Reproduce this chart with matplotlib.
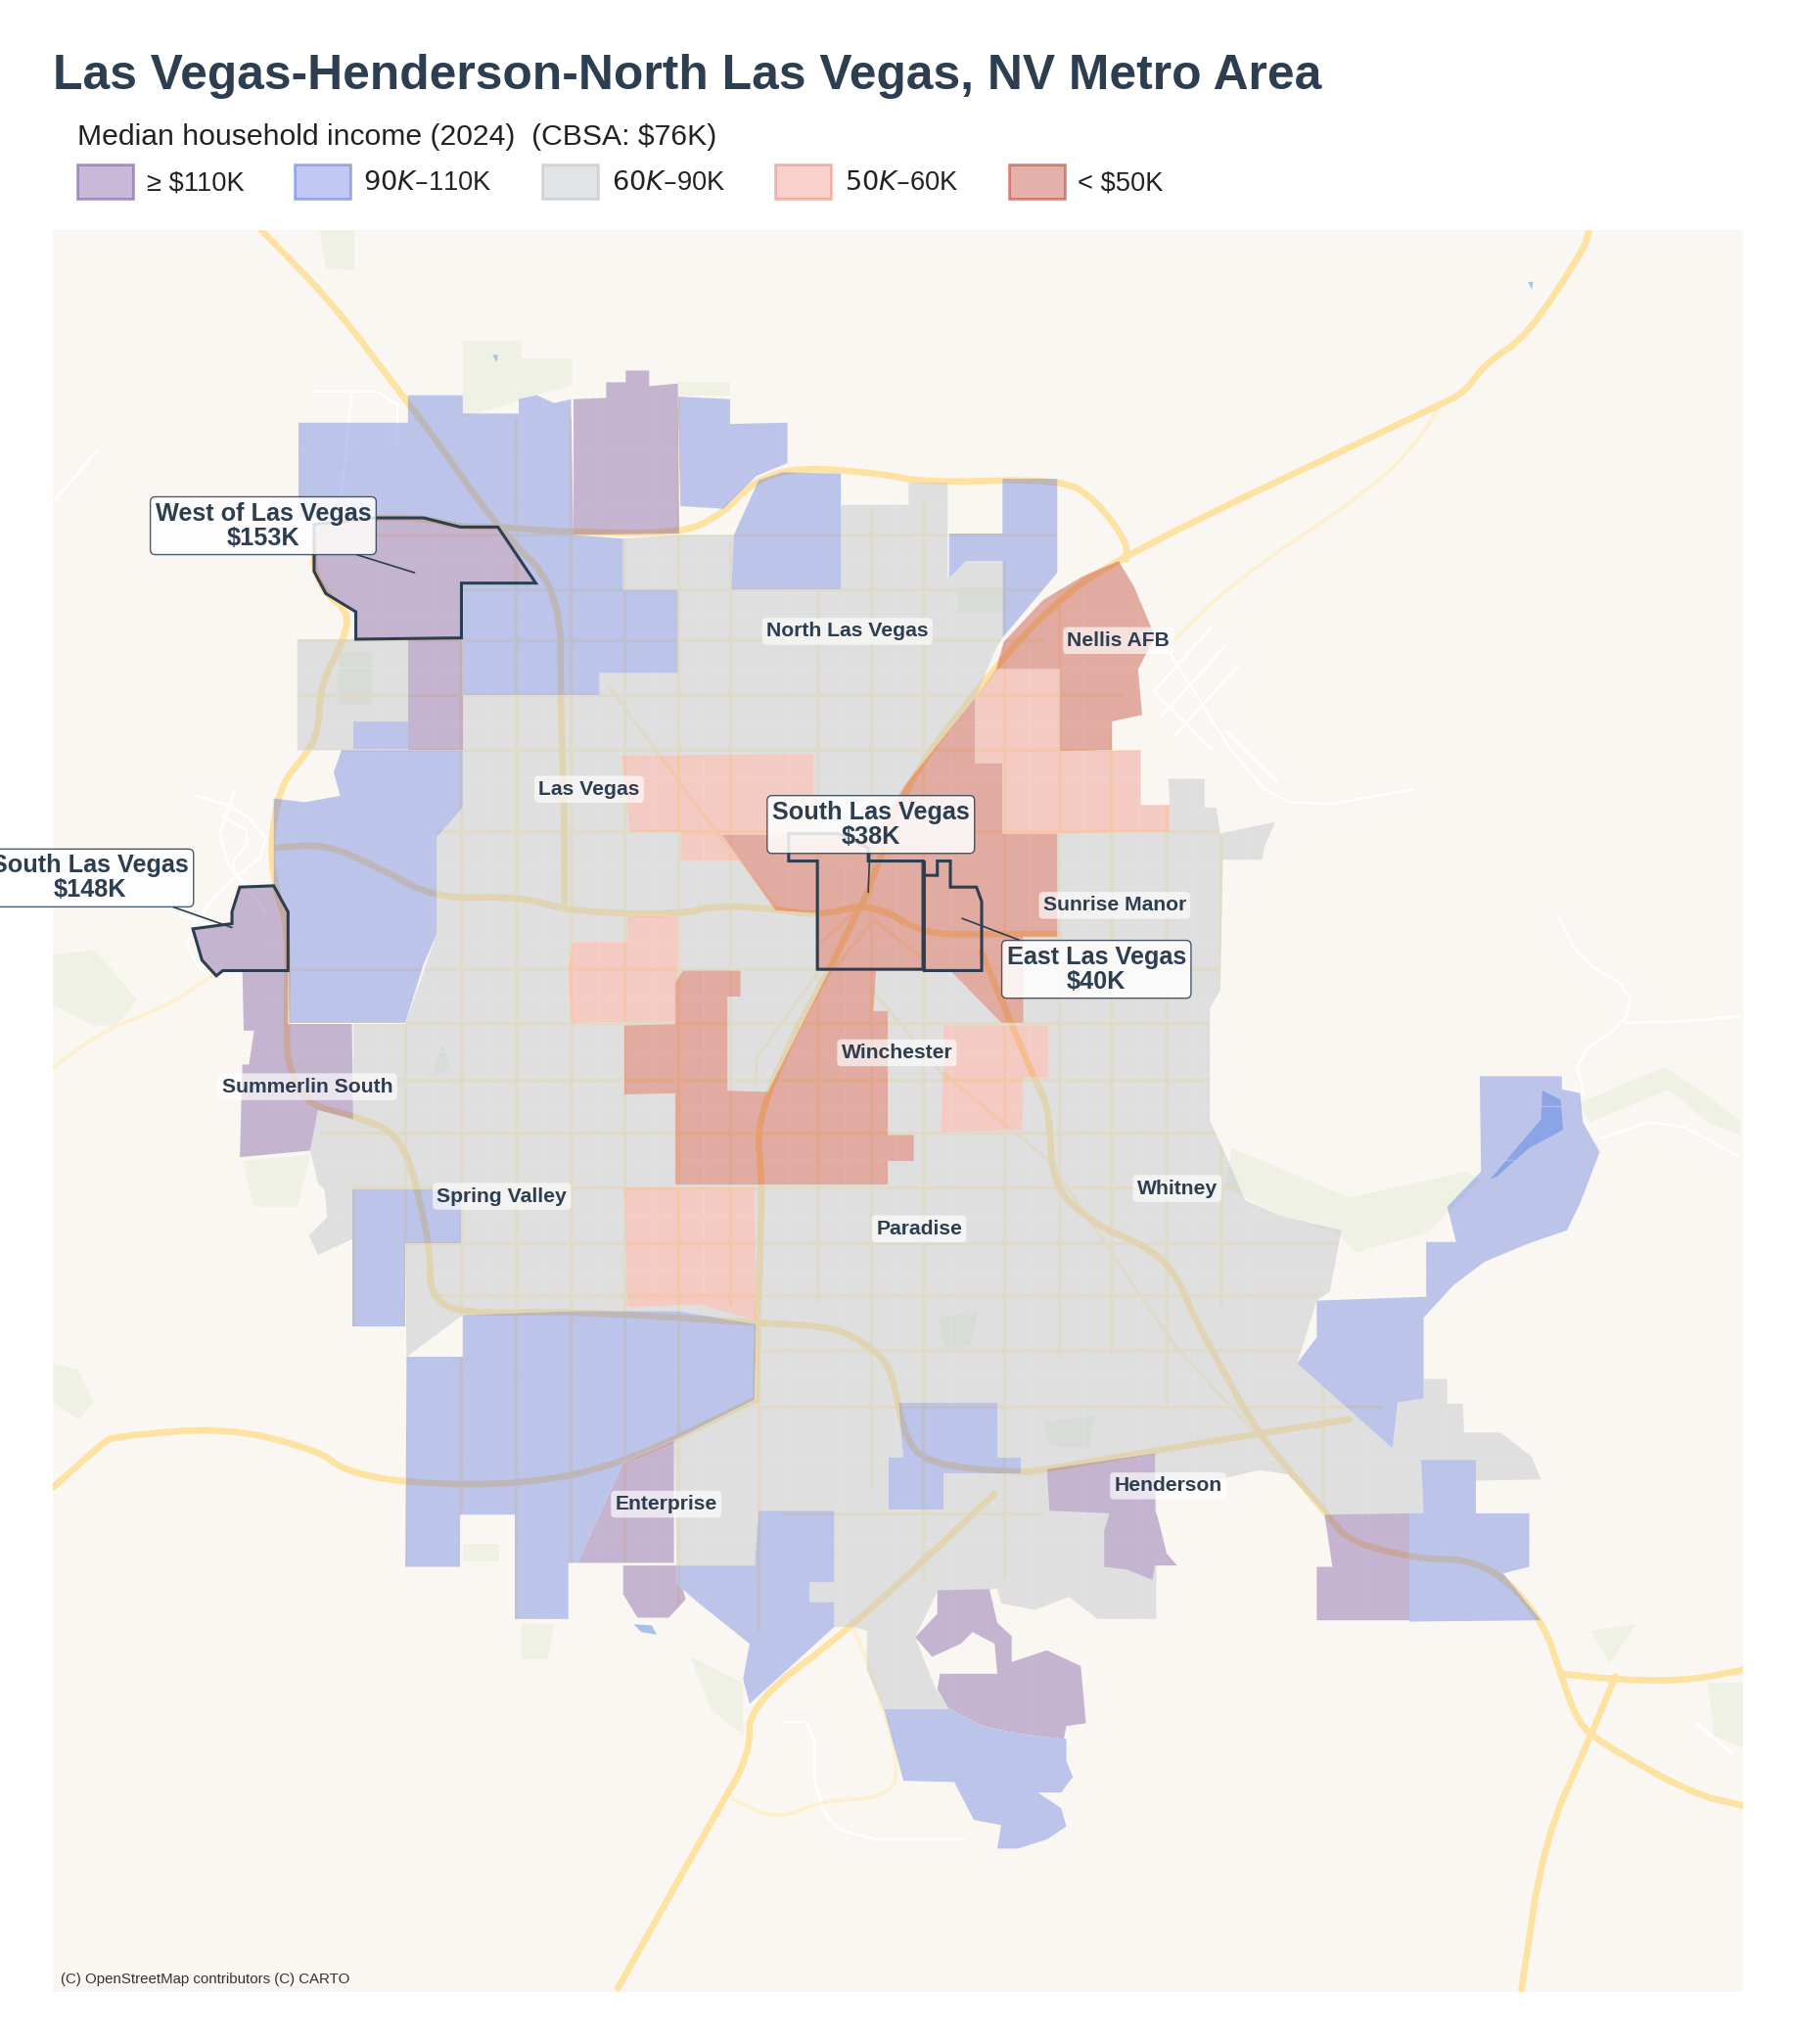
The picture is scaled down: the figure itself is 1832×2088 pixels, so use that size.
import matplotlib
matplotlib.use("Agg")
import matplotlib.pyplot as plt
from matplotlib.colors import to_rgba
from matplotlib.patches import Polygon, Patch
from matplotlib.collections import LineCollection

plt.rcParams['font.family'] = ['Liberation Sans', 'DejaVu Sans']

DARK = '#2c3e50'
LAND = '#faf7f2'

# map extent (projected map units, y grows downwards)
MAP_X = (41, 1337)
MAP_Y = (1527, 176)

# income classes
CLASS_LABELS = ['≥ $110K', '$90K–$110K', '$60K–$90K', '$50K–$60K', '< $50K']
CLASS_COLORS = ['#76509e', '#6178de', '#bdc3c7', '#ec7f72', '#c0392b']
CLASS_ALPHA = [0.40, 0.40, 0.45, 0.36, 0.40]

# tract outlines by income class
west_of_lv = [(241, 402), (288, 397), (325, 397), (353, 404), (382, 404), (411, 447), (354, 447), (354, 489), (273, 490), (273, 469), (250, 455), (241, 438)]
south_lv_west = [(184, 680), (210, 679), (221, 699), (221, 744), (171, 744), (166, 748), (155, 736), (148, 712), (178, 708), (178, 699)]
south_lv = [(605, 639), (643, 639), (666, 650), (666, 660), (708, 660), (708, 743), (627, 743), (627, 660), (605, 660)]
east_lv = [(709, 660), (709, 671), (719, 671), (719, 660), (729, 660), (729, 680), (749, 680), (753, 691), (753, 744), (709, 744)]

purple_tracts = [
    [(440, 306), (465, 305), (465, 293), (480, 293), (480, 284), (498, 284), (498, 296), (520, 294), (521, 409), (440, 410)],
    west_of_lv,
    [(313, 490), (355, 490), (355, 575), (313, 575)],
    south_lv_west,
    [(186, 744), (221, 744), (221, 785), (270, 785), (271, 858), (244, 851), (238, 882), (184, 887), (186, 816), (191, 816), (195, 790), (187, 790)],
    [(517, 1104), (517, 1198), (443, 1198), (478, 1121)],
    [(478, 1200), (519, 1200), (526, 1226), (513, 1240), (489, 1240), (478, 1222)],
    [(803, 1126), (886, 1114), (886, 1158), (888, 1163), (895, 1191), (903, 1200), (886, 1200), (884, 1211), (864, 1203), (847, 1201), (847, 1173), (851, 1160), (805, 1158)],
    [(719, 1219), (759, 1218), (765, 1244), (776, 1254), (776, 1274), (803, 1265), (829, 1277), (833, 1321), (818, 1323), (816, 1333), (781, 1329), (754, 1323), (728, 1310), (719, 1295), (721, 1283), (765, 1283), (763, 1260), (746, 1251), (737, 1260), (715, 1270), (702, 1255), (719, 1237)],
    [(1016, 1161), (1081, 1160), (1081, 1242), (1010, 1242), (1010, 1201), (1022, 1201)],
]
blue_tracts = [
    [(229, 324), (313, 324), (313, 303), (355, 303), (355, 317), (398, 317), (398, 306), (412, 303), (425, 309), (438, 306), (440, 410), (478, 413), (478, 452), (520, 452), (520, 516), (460, 516), (460, 533), (355, 533), (355, 447), (411, 447), (382, 404), (353, 404), (325, 397), (229, 397)],
    [(520, 304), (560, 306), (560, 325), (604, 324), (604, 355), (580, 365), (555, 390), (522, 388)],
    [(561, 452), (563, 410), (582, 368), (600, 362), (645, 363), (645, 452)],
    [(769, 367), (811, 367), (811, 439), (769, 489), (769, 430), (741, 430), (728, 443), (728, 409), (769, 409)],
    [(271, 574), (271, 553), (313, 553), (313, 574)],
    [(262, 575), (355, 575), (355, 619), (335, 642), (335, 716), (325, 739), (311, 784), (222, 784), (221, 744), (221, 699), (210, 679), (210, 612), (234, 615), (261, 610), (256, 592)],
    [(270, 912), (354, 912), (354, 953), (311, 953), (311, 1017), (270, 1017)],
    [(355, 1008), (440, 1005), (520, 1005), (580, 1015), (579, 1073), (517, 1104), (478, 1121), (443, 1198), (436, 1198), (436, 1241), (395, 1241), (395, 1161), (353, 1161), (353, 1201), (311, 1201), (312, 1040), (355, 1040)],
    [(519, 1200), (579, 1200), (582, 1158), (640, 1158), (640, 1213), (621, 1213), (621, 1228), (640, 1228), (640, 1247), (575, 1306), (570, 1287), (575, 1260), (535, 1228), (519, 1214)],
    [(689, 1075), (765, 1075), (765, 1117), (783, 1117), (783, 1129), (724, 1129), (724, 1157), (682, 1157), (682, 1117), (693, 1117)],
    [(1090, 1119), (1132, 1119), (1132, 1160), (1173, 1160), (1173, 1201), (1153, 1206), (1182, 1242), (1081, 1243), (1081, 1160), (1092, 1160)],
    [(678, 1310), (728, 1310), (754, 1323), (781, 1329), (818, 1333), (818, 1350), (823, 1362), (814, 1374), (796, 1374), (814, 1386), (818, 1400), (803, 1410), (781, 1417), (765, 1417), (768, 1399), (747, 1395), (732, 1366), (693, 1365)],
    [(1135, 825), (1198, 825), (1198, 835), (1212, 838), (1214, 860), (1227, 883), (1213, 920), (1202, 943), (1173, 953), (1139, 967), (1115, 985), (1092, 1010), (1092, 1072), (1072, 1075), (1068, 1110), (995, 1045), (1010, 1025), (1010, 997), (1094, 994), (1094, 952), (1117, 952), (1110, 925), (1136, 898)],
]
gray_tracts = [
    [(228, 490), (272, 490), (354, 490), (355, 533), (460, 533), (460, 516), (520, 516), (520, 452), (478, 452), (478, 413), (520, 410), (563, 410), (563, 452), (645, 452), (645, 387), (697, 387), (697, 370), (727, 370), (727, 443), (741, 430), (769, 430), (769, 489), (764, 497), (748, 535), (769, 585), (769, 639), (897, 638), (897, 607), (896, 597), (924, 597), (924, 619), (933, 619), (936, 639), (978, 630), (970, 649), (968, 659), (938, 659), (936, 759), (928, 773), (928, 859), (941, 887), (955, 920), (985, 933), (1029, 943), (1020, 990), (1010, 997), (995, 1045), (1060, 1100), (1072, 1075), (1092, 1072), (1092, 1057), (1110, 1057), (1110, 1076), (1122, 1076), (1123, 1098), (1151, 1098), (1175, 1117), (1182, 1134), (1132, 1135), (1132, 1160), (1017, 1161), (988, 1130), (965, 1127), (940, 1133), (887, 1142), (887, 1241), (842, 1241), (820, 1224), (794, 1234), (768, 1229), (765, 1218), (719, 1220), (702, 1255), (718, 1295), (728, 1310), (678, 1310), (665, 1280), (665, 1250), (654, 1247), (640, 1247), (640, 1228), (621, 1228), (621, 1213), (640, 1213), (640, 1200), (519, 1200), (517, 1104), (580, 1073), (580, 1015), (520, 1005), (355, 1008), (312, 1040), (311, 953), (270, 950), (244, 962), (237, 947), (251, 933), (249, 912), (244, 907), (238, 882), (244, 851), (271, 858), (271, 785), (311, 785), (335, 716), (335, 642), (355, 619), (355, 575), (228, 575)],
]
pink_tracts = [
    [(477, 579), (624, 578), (624, 640), (554, 640), (569, 660), (522, 660), (522, 638), (483, 638)],
    [(481, 702), (520, 702), (520, 783), (438, 784), (436, 744), (439, 722), (481, 722)],
    [(479, 910), (579, 910), (580, 1012), (536, 1000), (481, 1002)],
    [(764, 513), (813, 513), (813, 576), (875, 575), (875, 617), (897, 617), (897, 638), (769, 639), (769, 585), (748, 585), (748, 535)],
    [(724, 786), (804, 786), (804, 826), (785, 826), (784, 866), (722, 868), (723, 826)],
]
red_tracts = [
    [(858, 430), (870, 450), (886, 488), (873, 513), (876, 548), (853, 553), (853, 575), (813, 576), (813, 513), (764, 513), (770, 492), (800, 460), (830, 442)],
    [(748, 535), (748, 585), (769, 585), (769, 639), (811, 639), (811, 718), (785, 718), (785, 784), (768, 784), (729, 744), (627, 744), (627, 700), (595, 698), (554, 640), (672, 640), (694, 602)],
    [(636, 744), (672, 744), (670, 775), (681, 775), (681, 870), (701, 870), (701, 890), (681, 890), (681, 908), (518, 908), (518, 838), (479, 839), (479, 786), (518, 785), (518, 753), (524, 744), (568, 744), (568, 764), (558, 764), (558, 836), (589, 837)],
]
class_tracts = [purple_tracts, blue_tracts, gray_tracts, pink_tracts, red_tracts]

# motorways
highways = [
    [(1219, 176), (1215, 191), (1171, 258), (1140, 278), (1123, 301), (1105, 310), (855, 428), (800, 470), (748, 530), (694, 602), (667, 682), (657, 700), (636, 744), (610, 790), (580, 860), (585, 905), (581, 1015), (580, 1073)],
    [(200, 176), (254, 231), (307, 301), (333, 335), (382, 405), (430, 452), (430, 545), (433, 619), (433, 692)],
    [(382, 404), (439, 408), (522, 409), (553, 395), (579, 368), (614, 358), (675, 363), (711, 370), (816, 367), (842, 385), (864, 415), (864, 429)],
    [(382, 404), (353, 404), (325, 397), (288, 397), (250, 400), (241, 420), (241, 438), (250, 455), (268, 470), (263, 492), (246, 525), (244, 562), (234, 579), (215, 602), (207, 649), (212, 684), (221, 712), (220, 786), (220, 813), (234, 846), (273, 856), (299, 866), (311, 883), (318, 903), (330, 957), (330, 994), (354, 1007), (440, 1005), (581, 1014), (641, 1017), (670, 1034), (684, 1050), (693, 1099), (710, 1122), (781, 1129), (798, 1127), (886, 1112), (965, 1099), (1035, 1088)],
    [(210, 650), (250, 647), (290, 665), (335, 689), (397, 687), (440, 699), (521, 701), (550, 694), (598, 697), (627, 702), (670, 692), (708, 716), (753, 716), (811, 716)],
    [(753, 730), (793, 826), (805, 850), (807, 910), (842, 940), (877, 954), (901, 974), (916, 1010), (938, 1050), (965, 1099), (1017, 1160), (1035, 1182), (1088, 1195), (1123, 1195), (1153, 1208), (1184, 1244), (1197, 1283), (1210, 1320), (1228, 1336), (1298, 1375), (1337, 1384)],
    [(1197, 1283), (1246, 1288), (1296, 1288), (1337, 1280)],
    [(1239, 1285), (1219, 1333), (1184, 1412), (1167, 1525)],
    [(41, 1140), (79, 1106), (88, 1101), (175, 1094), (245, 1112), (263, 1127), (311, 1137), (403, 1138), (478, 1122), (579, 1073)],
    [(763, 1145), (654, 1247), (575, 1306), (575, 1346), (548, 1392), (474, 1524)],
]
# secondary roads reaching outside the urban area
rural_roads = [
    [(41, 818), (81, 789), (129, 771), (165, 746)],
    [(1105, 310), (1088, 338), (1052, 375), (947, 445), (895, 496)],
    [(561, 1379), (596, 1395), (632, 1380), (675, 1379), (693, 1359), (662, 1264), (654, 1247)],
]
# arterial grid, only drawn inside tracts
arterials = [
    [(466, 525), (540, 625), (598, 699)],
    [(627, 746), (581, 810), (579, 833)],
    [(670, 760), (720, 820), (805, 890), (900, 1030), (1001, 1140), (1017, 1160)],
    [(627, 725), (660, 695), (690, 705)], [(640, 743), (670, 705), (708, 735)],
    [(271, 912), (271, 1017)], [(311, 785), (311, 1200)], [(354, 490), (354, 1200)], [(396, 320), (396, 1240)],
    [(438, 320), (438, 1200)], [(479, 410), (479, 1200)], [(520, 305), (520, 1240)], [(560, 415), (560, 1000)],
    [(582, 910), (582, 1250)], [(627, 452), (627, 1000)], [(668, 390), (668, 1140)], [(708, 385), (708, 1210)],
    [(770, 430), (770, 1210)], [(812, 370), (812, 1040)], [(852, 560), (852, 1040)], [(895, 560), (895, 1080)],
    [(936, 640), (936, 1000)], [(1015, 1060), (1015, 1160)],
    [(229, 410), (813, 410)], [(355, 452), (813, 452)], [(229, 491), (800, 491)], [(229, 533), (860, 533)],
    [(228, 575), (900, 575)], [(335, 637), (940, 637)], [(221, 743), (935, 743)], [(222, 784), (930, 784)],
    [(270, 828), (928, 828)], [(245, 868), (945, 868)], [(270, 910), (1000, 910)], [(311, 953), (1030, 953)],
    [(330, 993), (1010, 993)], [(580, 1035), (1000, 1035)], [(580, 1078), (1060, 1078)], [(600, 1160), (800, 1160)],
]
# local streets inside tracts
local_roads = [
    [(291, 300), (291, 1250)], [(332, 300), (332, 1250)], [(375, 300), (375, 1250)], [(417, 300), (417, 1250)],
    [(459, 300), (459, 1250)], [(500, 300), (500, 1250)], [(540, 300), (540, 1250)], [(605, 300), (605, 1250)],
    [(648, 300), (648, 1350)], [(688, 300), (688, 1350)], [(729, 300), (729, 1350)], [(790, 300), (790, 1350)],
    [(832, 300), (832, 1350)], [(873, 400), (873, 1350)], [(915, 560), (915, 1350)], [(957, 600), (957, 1250)],
    [(1050, 900), (1050, 1250)], [(1110, 800), (1110, 1250)],
    [(200, 345), (1200, 345)], [(200, 388), (1200, 388)], [(200, 431), (1200, 431)], [(200, 472), (1200, 472)],
    [(200, 512), (1200, 512)], [(200, 554), (1200, 554)], [(200, 596), (1200, 596)], [(200, 660), (1200, 660)],
    [(200, 722), (1200, 722)], [(200, 764), (1200, 764)], [(200, 806), (1200, 806)], [(200, 848), (1200, 848)],
    [(200, 889), (1200, 889)], [(200, 931), (1200, 931)], [(200, 973), (1200, 973)], [(200, 1056), (1200, 1056)],
    [(200, 1118), (1200, 1118)], [(200, 1180), (1200, 1180)],
]
# streets outside the urban area
pale_roads = [
    [(1195, 702), (1212, 736), (1252, 759), (1247, 784), (1208, 810), (1215, 840)],
    [(1247, 784), (1292, 783), (1335, 779)],
    [(1227, 873), (1277, 856), (1335, 887)],
    [(150, 610), (185, 620), (210, 650), (170, 680), (140, 720), (155, 745)],
    [(180, 605), (165, 650), (205, 700)], [(170, 625), (195, 640), (175, 665), (190, 680)], [(135, 700), (165, 710)],
    [(240, 300), (305, 300), (305, 340)], [(270, 300), (262, 380)],
    [(897, 500), (960, 600), (1000, 620), (1085, 605)],
    [(930, 480), (885, 530)], [(940, 495), (890, 550)], [(950, 510), (900, 565)], [(885, 530), (930, 575)],
    [(940, 560), (980, 600)], [(600, 1320), (625, 1320), (625, 1380), (650, 1410), (740, 1410)],
    [(1300, 1320), (1330, 1345)], [(41, 385), (75, 345)],
]
# parks and desert washes
parks = [
    [(355, 261), (400, 261), (400, 275), (439, 275), (439, 295), (355, 320)],
    [(245, 176), (272, 176), (272, 208), (250, 205)],
    [(520, 293), (560, 293), (560, 303), (520, 303)],
    [(41, 732), (72, 728), (105, 766), (90, 786), (72, 786), (41, 770)],
    [(945, 880), (1035, 918), (1125, 898), (1135, 905), (1095, 945), (1040, 960), (1025, 945), (985, 933), (940, 910)],
    [(1210, 846), (1277, 818), (1310, 840), (1335, 860), (1335, 870), (1310, 860), (1280, 835), (1220, 860)],
    [(186, 890), (238, 885), (228, 925), (195, 925)],
    [(355, 1183), (383, 1183), (383, 1197), (355, 1197)],
    [(400, 1245), (425, 1245), (420, 1272), (400, 1272)],
    [(41, 1045), (60, 1050), (72, 1075), (60, 1088), (41, 1075)],
    [(1220, 1250), (1255, 1245), (1235, 1275)],
    [(1310, 1290), (1337, 1290), (1337, 1340), (1315, 1330)],
    [(530, 1270), (570, 1290), (570, 1330), (545, 1310)],
    [(735, 450), (770, 450), (770, 470), (735, 470)],
    [(340, 800), (345, 820), (330, 825)],
    [(720, 1010), (750, 1005), (745, 1030), (725, 1035)],
    [(800, 1090), (840, 1085), (835, 1110), (805, 1108)],
    [(260, 500), (285, 500), (285, 540), (260, 540)],
]
lakes = [
    [(1183, 836), (1197, 843), (1199, 866), (1173, 880), (1148, 902), (1143, 904), (1165, 878), (1182, 858)],
    [(1172, 216), (1176, 216), (1175, 222)],
    [(378, 272), (382, 272), (381, 278)],
    [(486, 1245), (500, 1246), (504, 1253), (492, 1251)],
]

# place names and callouts
place_names = ['North Las Vegas', 'Nellis AFB', 'Las Vegas', 'Sunrise Manor', 'Winchester', 'Summerlin South', 'Spring Valley', 'Whitney', 'Paradise', 'Henderson', 'Enterprise']
place_x = [650, 858, 452, 855, 688, 236, 385, 903, 705, 896, 511]
place_y = [484, 491, 605, 694, 807, 833, 917, 911, 942, 1139, 1153]

callout_text = ['West of Las Vegas\n$153K', 'South Las Vegas\n$148K', 'South Las Vegas\n$38K', 'East Las Vegas\n$40K']
callout_x = [202, 69, 668, 841]
callout_y = [403, 673, 632, 743]
callout_tip_x = [318, 178, 666, 738]
callout_tip_y = [439, 711, 684, 704]


def smooth(pts):
    # rounds the corners of a road polyline
    out = [pts[0]]
    for (x0, y0), (x1, y1) in zip(pts[:-1], pts[1:]):
        out.append((0.75 * x0 + 0.25 * x1, 0.75 * y0 + 0.25 * y1))
        out.append((0.25 * x0 + 0.75 * x1, 0.25 * y0 + 0.75 * y1))
    out.append(pts[-1])
    return out


smooth_highways = [smooth(smooth(h)) for h in highways]
smooth_rural = [smooth(smooth(r)) for r in rural_roads]
smooth_pale = [smooth(p) for p in pale_roads]


def draw_map(ax, z, clip=None):
    # parks, water and roads; with clip, only the part inside one tract
    artists = []
    for pts in parks:
        artists.append(ax.add_patch(Polygon(pts, facecolor='#eef1e3', edgecolor='none', zorder=z)))
    for pts in lakes:
        artists.append(ax.add_patch(Polygon(pts, facecolor='#a6c2ea', edgecolor='none', zorder=z)))
    if clip is not None:
        artists.append(ax.add_collection(LineCollection(local_roads, colors='#ffffff', linewidths=0.5, alpha=0.7, zorder=z)))
        artists.append(ax.add_collection(LineCollection(arterials, colors='#fbeecb', linewidths=1.2, zorder=z)))
    artists.append(ax.add_collection(LineCollection(smooth_pale, colors='#ffffff', linewidths=0.9, zorder=z)))
    artists.append(ax.add_collection(LineCollection(smooth_rural, colors='#fdf0cc', linewidths=1.3, zorder=z)))
    artists.append(ax.add_collection(LineCollection(smooth_highways, colors='#fde2a2', linewidths=2.4, zorder=z, capstyle='round', joinstyle='round')))
    if clip is not None:
        for a in artists:
            a.set_clip_path(clip)


fig = plt.figure(figsize=(9.165, 10.44), dpi=200)
ax = fig.add_axes([54.5 / 1833, 1 - 2035 / 2088, (1781 - 54.5) / 1833, (2035 - 234.5) / 2088])
ax.set_xlim(MAP_X)
ax.set_ylim(MAP_Y)
ax.set_facecolor(LAND)
for s in ax.spines.values():
    s.set_visible(False)
ax.set_xticks([])
ax.set_yticks([])

draw_map(ax, 1)

# each tract: blank land, its part of the base map, then the class colour
z = 2
for k in [2, 0, 1, 3, 4]:
    for pts in class_tracts[k]:
        blank = ax.add_patch(Polygon(pts, facecolor=LAND, edgecolor='none', zorder=z))
        draw_map(ax, z + 0.1, clip=blank)
        ax.add_patch(Polygon(pts, facecolor=CLASS_COLORS[k], edgecolor='none', alpha=CLASS_ALPHA[k], zorder=z + 0.2))
        z += 1

# highlighted tracts
for pts in [west_of_lv, south_lv_west, south_lv, east_lv]:
    ax.add_patch(Polygon(pts, facecolor='none', edgecolor=DARK, linewidth=1.1, joinstyle='miter', zorder=z))
z += 1

for name, x, y in zip(place_names, place_x, place_y):
    ax.text(x, y, name, ha='center', va='center', fontsize=7.6, fontweight='bold', color=DARK, zorder=z,
            bbox=dict(boxstyle='round,pad=0.2', facecolor='white', edgecolor='none', alpha=0.65))

for text, x, y, tx, ty in zip(callout_text, callout_x, callout_y, callout_tip_x, callout_tip_y):
    ax.annotate(text, xy=(tx, ty), xytext=(x, y), ha='center', va='center', fontsize=9.1, fontweight='bold',
                color=DARK, zorder=z + 1, annotation_clip=False, linespacing=1.05,
                bbox=dict(boxstyle='round,pad=0.2', facecolor='white', edgecolor=DARK, linewidth=0.5, alpha=0.85),
                arrowprops=dict(arrowstyle='-', color=DARK, linewidth=0.6, shrinkA=0, shrinkB=0))

ax.text(47, 1517, '(C) OpenStreetMap contributors (C) CARTO', fontsize=5.4, color='#333333', ha='left', va='center', zorder=z + 2)

fig.text(54.5 / 1833, 1 - 78 / 2088, 'Las Vegas-Henderson-North Las Vegas, NV Metro Area', fontsize=17.9, fontweight='bold',
         color=DARK, ha='left', va='center')

handles = [Patch(facecolor=to_rgba(c, a), edgecolor=to_rgba(c, a + 0.15), linewidth=1.0, label=l)
           for l, c, a in zip(CLASS_LABELS, CLASS_COLORS, CLASS_ALPHA)]
leg = fig.legend(handles=handles, title='Median household income (2024)  (CBSA: $76K)', ncol=5, frameon=False,
                 loc='lower left', bbox_to_anchor=(79 / 1833, 1 - 203 / 2088), fontsize=9.8, title_fontsize=10.85,
                 alignment='left', handlelength=2.1, handleheight=1.6, handletextpad=0.5, columnspacing=1.88,
                 labelcolor='#222222', borderpad=0, borderaxespad=0)
leg.get_title().set_color('#222222')

fig.savefig('out.png', dpi=200, facecolor='white')
